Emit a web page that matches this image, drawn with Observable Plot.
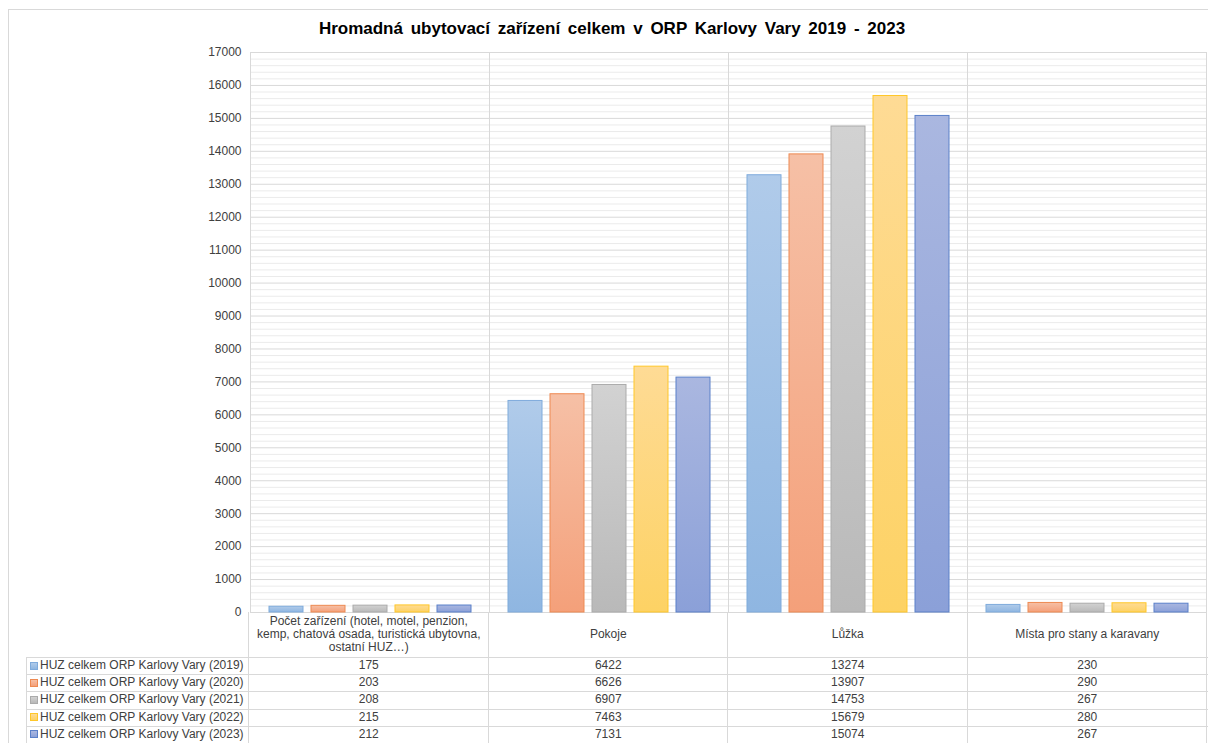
<!DOCTYPE html>
<html><head><meta charset="utf-8">
<script src="https://cdn.jsdelivr.net/npm/d3@7"></script>
<script src="https://cdn.jsdelivr.net/npm/@observablehq/plot@0.6"></script>
<style>
html,body{margin:0;padding:0;background:#fff;overflow:hidden;}
#wrap{position:relative;width:1208px;height:743px;font-family:"Liberation Sans",Arial,sans-serif;color:#404040;overflow:hidden;}
.outer{position:absolute;left:8px;top:9px;width:1300px;height:800px;border-left:1px solid #d9d9d9;border-top:1px solid #d9d9d9;box-sizing:border-box;}
#title{position:absolute;left:0;width:1224px;top:19px;text-align:center;font-weight:bold;font-size:17px;color:#000;word-spacing:3px;}
#chart{position:absolute;left:0;top:0;}
.hl{position:absolute;height:1px;background:#d9d9d9;}
.vl{position:absolute;width:1px;background:#d9d9d9;}
.cell{position:absolute;font-size:12px;display:flex;align-items:center;justify-content:center;text-align:center;line-height:13px;box-sizing:border-box;white-space:nowrap;}
.hdr{white-space:normal;padding:0 3px;}
.leg{justify-content:flex-start;padding-left:4px;}
.sw{display:inline-block;width:6px;height:6px;margin-right:2px;border:1px solid;}
</style>
</head><body>
<div id="wrap">
  <div class="outer"></div>
  <div id="chart"></div>
  <div id="title">Hromadná ubytovací zařízení celkem v ORP Karlovy Vary 2019 - 2023</div>
</div>
<script>
// ---- data ----
const categories = [
  "Počet zařízení (hotel, motel, penzion, kemp, chatová osada, turistická ubytovna, ostatní HUZ…)",
  "Pokoje",
  "Lůžka",
  "Místa pro stany a karavany"
];
const years = [2019, 2020, 2021, 2022, 2023];
const seriesNames = [
  "HUZ celkem ORP Karlovy Vary (2019)",
  "HUZ celkem ORP Karlovy Vary (2020)",
  "HUZ celkem ORP Karlovy Vary (2021)",
  "HUZ celkem ORP Karlovy Vary (2022)",
  "HUZ celkem ORP Karlovy Vary (2023)"
];
const v2019 = [175, 6422, 13274, 230];
const v2020 = [203, 6626, 13907, 290];
const v2021 = [208, 6907, 14753, 267];
const v2022 = [215, 7463, 15679, 280];
const v2023 = [212, 7131, 15074, 267];
const yTicks = d3.range(0, 17001, 1000);

// styles
const gradTop    = ["#b0cbea", "#f6c0a6", "#d2d2d2", "#fedb95", "#aab7e0"];
const gradBottom = ["#8fb6e1", "#f4a07a", "#b9b9b9", "#fdd264", "#8ba0d8"];
const strokes    = ["#7fabdc", "#ee8a52", "#ababab", "#ffc729", "#5a80c9"];

const valuesByYear = [v2019, v2020, v2021, v2022, v2023];
const rows = [];
years.forEach((yr, i) => categories.forEach((c, j) => rows.push({cat: c, year: yr, value: valuesByYear[i][j], idx: i})));

const W = 1208, ML = 249, MR = 1, MT = 52, H = 613, MB = 1;
const minor = d3.range(0, 17001, 200).filter(d => d % 1000 !== 0);

const svg = Plot.plot({
  width: W, height: H,
  marginLeft: ML, marginRight: MR, marginTop: MT, marginBottom: MB,
  style: {fontFamily: "'Liberation Sans', Arial, sans-serif", fontSize: "12px", color: "#404040", background: "transparent", overflow: "visible"},
  facet: {data: rows, x: "cat"},
  fx: {domain: categories, padding: 0, axis: null, label: null},
  x: {domain: years, paddingInner: 0.2, paddingOuter: 0.418, axis: null, label: null},
  y: {domain: [0, 17000], ticks: yTicks, tickFormat: d => String(d), tickSize: 0, tickPadding: 9, label: null},
  color: {type: "identity"},
  marks: [
    Plot.ruleY(minor, {stroke: "#ebebeb", strokeWidth: 1}),
    Plot.ruleY(yTicks, {stroke: "#d9d9d9", strokeWidth: 1}),
    Plot.frame({stroke: "#d9d9d9"}),
    Plot.barY(rows, {x: "year", y: "value", fill: d => `url(#g${d.idx})`, stroke: d => strokes[d.idx], strokeWidth: 1})
  ]
});

// gradients
const defs = d3.select(svg).insert("defs", ":first-child");
years.forEach((yr, i) => {
  const g = defs.append("linearGradient").attr("id", "g" + i).attr("x1", 0).attr("y1", 0).attr("x2", 0).attr("y2", 1);
  g.append("stop").attr("offset", "0%").attr("stop-color", gradTop[i]);
  g.append("stop").attr("offset", "100%").attr("stop-color", gradBottom[i]);
});
document.getElementById("chart").appendChild(svg);

// ---- data table below plot ----
const wrap = document.getElementById("wrap");
function add(cls, css, html) {
  const d = document.createElement("div");
  d.className = cls;
  Object.assign(d.style, css);
  if (html != null) d.innerHTML = html;
  wrap.appendChild(d);
  return d;
}
const bw = (W - ML - MR) / categories.length;
const colX = categories.map((c, i) => ML + i * bw);
const hdrTop = 612, hdrH = 45, rowH = 17.2;
const rowTops = years.map((y, i) => hdrTop + hdrH + i * rowH);

categories.forEach((c, i) => {
  add("cell hdr", {left: colX[i] + "px", top: hdrTop + "px", width: bw + "px", height: hdrH + "px"}).textContent = c;
});
years.forEach((yr, r) => {
  const top = rowTops[r];
  const leg = add("cell leg", {left: "26px", top: top + "px", width: (ML - 26) + "px", height: rowH + "px"});
  const sw = document.createElement("span");
  sw.className = "sw";
  sw.style.background = `linear-gradient(${gradTop[r]}, ${gradBottom[r]})`;
  sw.style.borderColor = strokes[r];
  leg.appendChild(sw);
  leg.appendChild(document.createTextNode(seriesNames[r]));
  categories.forEach((c, j) => {
    add("cell", {left: colX[j] + "px", top: top + "px", width: bw + "px", height: rowH + "px"}).textContent = valuesByYear[r][j];
  });
  add("hl", {left: "26px", top: Math.round(top) + "px", width: (W - 26) + "px"});
});
add("vl", {left: "26px", top: Math.round(rowTops[0]) + "px", height: "100px"});
colX.concat([W - MR]).forEach(x => add("vl", {left: (Math.round(x) - 1) + "px", top: "612px", height: "140px"}));
</script>
</body></html>
